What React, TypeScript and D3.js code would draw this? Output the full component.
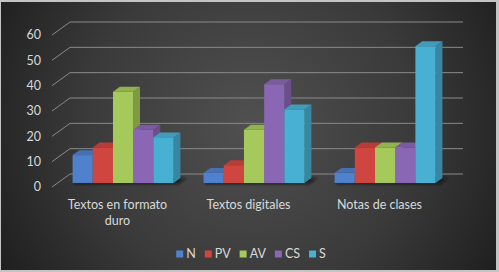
import React, { useEffect, useRef } from "react";
import * as d3 from "d3";

const categories = ["Textos en formato duro", "Textos digitales", "Notas de clases"];
const seriesNames = ["N", "PV", "AV", "CS", "S"];
const seriesN = [11, 4, 4];
const seriesPV = [14, 7, 14];
const seriesAV = [36, 21, 14];
const seriesCS = [21, 39, 14];
const seriesS = [18, 29, 54];
const seriesValues = [seriesN, seriesPV, seriesAV, seriesCS, seriesS];
const seriesColors = ["#4f81cd", "#cf4540", "#a5c95a", "#8a67b4", "#48b1d3"];
const yTicks = [0, 10, 20, 30, 40, 50, 60];

const W = 499;
const H = 272;
const FONT = "Lato, 'Open Sans', sans-serif";

export default function App() {
  const ref = useRef<SVGSVGElement | null>(null);

  useEffect(() => {
    const svg = d3.select(ref.current);
    svg.selectAll("*").remove();

    const defs = svg.append("defs");
    const rg = defs
      .append("radialGradient")
      .attr("id", "bg")
      .attr("gradientUnits", "userSpaceOnUse")
      .attr("cx", 250)
      .attr("cy", 125)
      .attr("r", 300);
    rg.append("stop").attr("offset", "0%").attr("stop-color", "#505050");
    rg.append("stop").attr("offset", "55%").attr("stop-color", "#3a3a3a");
    rg.append("stop").attr("offset", "100%").attr("stop-color", "#1c1c1c");

    const blur = defs.append("filter").attr("id", "blur").attr("x", "-20%").attr("y", "-50%").attr("width", "140%").attr("height", "200%");
    blur.append("feGaussianBlur").attr("stdDeviation", 1.6);

    svg.append("rect").attr("width", W).attr("height", H).attr("fill", "#c4c4c4");
    svg.append("rect").attr("x", 1).attr("y", 2).attr("width", 495).attr("height", 268).attr("fill", "url(#bg)");

    // 3D projection: back plane coords + depth t (0 = back wall, 1 = front)
    const DX = -18;
    const DY = 13;
    const y = d3.scaleLinear().domain([0, 60]).range([174, 22]);
    const P = (xb: number, v: number, t: number): [number, number] => [xb + DX * t, y(v) + DY * t];

    const x0 = d3.scaleBand<string>().domain(categories).range([70, 463]).paddingInner(0.229).paddingOuter(0.1145);
    const x1 = d3.scaleBand<string>().domain(seriesNames).range([0, x0.bandwidth()]);

    const grid = svg.append("g").attr("stroke", "#8a8a8a").attr("stroke-width", 1).attr("fill", "none");
    yTicks.forEach((v) => {
      const a = P(70, v, 1);
      const b = P(70, v, 0);
      const c = P(463, v, 0);
      grid.append("path").attr("d", `M${a[0]},${a[1]}L${b[0]},${b[1]}L${c[0]},${c[1]}`);
    });

    svg
      .append("g")
      .selectAll("text")
      .data(yTicks)
      .join("text")
      .attr("x", 41)
      .attr("y", (d) => P(70, d, 1)[1])
      .attr("dy", "0.35em")
      .attr("text-anchor", "end")
      .attr("fill", "#d9d9d9")
      .attr("font-family", FONT)
      .attr("font-size", 12.5)
      .text((d) => String(d));

    const tF = 0.69;
    const tB = 0.31;
    const poly = (pts: [number, number][]) => "M" + pts.map((p) => p.join(",")).join("L") + "Z";

    // shadows
    const shadows = svg.append("g").attr("filter", "url(#blur)");
    categories.forEach((c) => {
      const xa = (x0(c) as number) + 2;
      const xbb = (x0(c) as number) + x0.bandwidth() + 6;
      shadows
        .append("path")
        .attr("d", poly([P(xa, 0, tF + 0.08), P(xbb, 0, tF + 0.08), P(xbb, 0, tB), P(xa, 0, tB)]))
        .attr("fill", "#0c0c0c")
        .attr("opacity", 0.75);
    });

    const bars = svg.append("g");
    categories.forEach((c, ci) => {
      seriesNames.forEach((s, si) => {
        const v = seriesValues[si][ci];
        const xl = (x0(c) as number) + (x1(s) as number);
        const xr = xl + x1.bandwidth();
        const base = d3.color(seriesColors[si]) as d3.RGBColor;
        const g = bars.append("g");
        // side
        g.append("path")
          .attr("d", poly([P(xr, 0, tF), P(xr, 0, tB), P(xr, v, tB), P(xr, v, tF)]))
          .attr("fill", base.darker(0.75).formatHex());
        // top
        g.append("path")
          .attr("d", poly([P(xl, v, tF), P(xr, v, tF), P(xr, v, tB), P(xl, v, tB)]))
          .attr("fill", base.darker(0.35).formatHex());
        // front
        g.append("path")
          .attr("d", poly([P(xl, 0, tF), P(xr, 0, tF), P(xr, v, tF), P(xl, v, tF)]))
          .attr("fill", base.formatHex());
      });
    });

    // category labels (wrapped) centered on the front-plane band centers
    const labels = svg.append("g");
    const maxW = 112;
    categories.forEach((c) => {
      const cx = (x0(c) as number) + x0.bandwidth() / 2 + DX;
      const t = labels
        .append("text")
        .attr("text-anchor", "middle")
        .attr("fill", "#d9d9d9")
        .attr("font-family", FONT)
        .attr("font-size", 12.5);
      const words = c.split(" ");
      let line: string[] = [];
      let lineNo = 0;
      let ts = t.append("tspan").attr("x", cx).attr("y", 205).attr("dy", "0.35em");
      words.forEach((w) => {
        line.push(w);
        ts.text(line.join(" "));
        if ((ts.node() as SVGTextContentElement).getComputedTextLength() > maxW && line.length > 1) {
          line.pop();
          ts.text(line.join(" "));
          line = [w];
          lineNo += 1;
          ts = t.append("tspan").attr("x", cx).attr("y", 205 + lineNo * 16).attr("dy", "0.35em").text(w);
        }
      });
    });

    // legend
    const leg = svg.append("g");
    const items: { g: any; w: number }[] = [];
    seriesNames.forEach((s, i) => {
      const g = leg.append("g");
      g.append("rect").attr("x", 0).attr("y", -3.5).attr("width", 7).attr("height", 7).attr("fill", seriesColors[i]);
      const tx = g
        .append("text")
        .attr("x", 10)
        .attr("dy", "0.35em")
        .attr("fill", "#d9d9d9")
        .attr("font-family", FONT)
        .attr("font-size", 12.5)
        .text(s);
      const w = 10 + (tx.node() as SVGTextContentElement).getComputedTextLength();
      items.push({ g, w });
    });
    const gap = 9;
    const total = d3.sum(items, (d) => d.w) + gap * (items.length - 1);
    let cur = 251 - total / 2;
    items.forEach((it) => {
      it.g.attr("transform", `translate(${cur},254)`);
      cur += it.w + gap;
    });
  }, []);

  return (
    <svg
      ref={ref}
      width={W}
      height={H}
      style={{ position: "fixed", left: 0, top: 0, display: "block" }}
    />
  );
}
